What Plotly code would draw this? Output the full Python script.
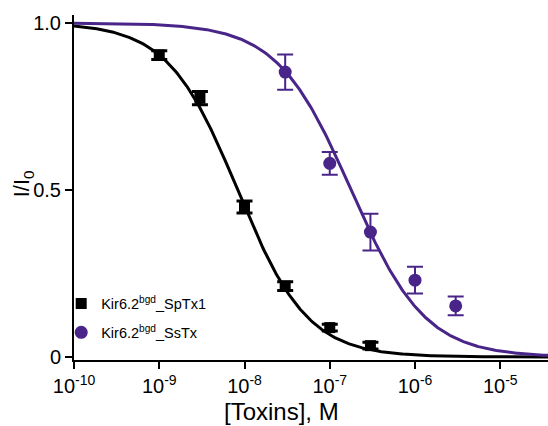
import numpy as np
import plotly.graph_objects as go

# ---- data ----
conc_sptx1 = [1e-9, 3e-9, 1e-8, 3e-8, 1e-7, 3e-7]
resp_sptx1 = [0.904, 0.775, 0.449, 0.212, 0.088, 0.034]
err_sptx1 = [0.013, 0.02, 0.018, 0.013, 0.01, 0.01]

conc_sstx = [3e-8, 1e-7, 3e-7, 1e-6, 3e-6]
resp_sstx = [0.853, 0.58, 0.374, 0.23, 0.153]
err_sstx = [0.053, 0.034, 0.055, 0.04, 0.028]

# Hill fit parameters (IC50, Hill slope)
ic50_sptx1, hill_sptx1 = 8.3e-9, 1.06
ic50_sstx, hill_sstx = 1.78e-7, 1.0

xtick_vals = [1e-10, 1e-9, 1e-8, 1e-7, 1e-6, 1e-5]
xtick_text = ["10<sup>-10</sup>", "10<sup>-9</sup>", "10<sup>-8</sup>",
              "10<sup>-7</sup>", "10<sup>-6</sup>", "10<sup>-5</sup>"]
ytick_vals = [0, 0.5, 1.0]
ytick_text = ["0", "0.5", "1.0"]

BLACK = "#000000"
PURPLE = "#4a2589"
FONT = "Arial, Liberation Sans, sans-serif"

xfit = np.logspace(-10, -4.4, 400)


def hill(x, ic50, n):
    return 1.0 / (1.0 + (x / ic50) ** n)


fig = go.Figure()
fig.add_trace(go.Scatter(x=xfit, y=hill(xfit, ic50_sptx1, hill_sptx1), mode="lines",
                         line=dict(color=BLACK, width=3), showlegend=False, hoverinfo="skip"))
fig.add_trace(go.Scatter(x=xfit, y=hill(xfit, ic50_sstx, hill_sstx), mode="lines",
                         line=dict(color=PURPLE, width=3), showlegend=False, hoverinfo="skip"))
fig.add_trace(go.Scatter(x=conc_sptx1, y=resp_sptx1, mode="markers",
                         name="Kir6.2<sup>bgd</sup>_SpTx1", legendgroup="a",
                         marker=dict(symbol="square", size=11, color=BLACK),
                         error_y=dict(type="data", array=err_sptx1, color=BLACK,
                                      thickness=3, width=8)))
fig.add_trace(go.Scatter(x=conc_sstx, y=resp_sstx, mode="markers",
                         name="Kir6.2<sup>bgd</sup>_SsTx", legendgroup="b",
                         marker=dict(symbol="circle", size=13, color=PURPLE),
                         error_y=dict(type="data", array=err_sstx, color=PURPLE,
                                      thickness=2, width=8)))

fig.update_layout(
    width=548, height=426,
    margin=dict(l=74, r=0, t=15, b=66),
    paper_bgcolor="white", plot_bgcolor="white",
    font=dict(family=FONT, color=BLACK, size=20),
    legend=dict(x=-0.027, y=0.21, xanchor="left", yanchor="top",
                font=dict(size=14.5, color=BLACK, family=FONT),
                bgcolor="rgba(0,0,0,0)", tracegroupgap=7,
                traceorder="grouped"),
    xaxis=dict(type="log", range=[-10, -4.44], showgrid=False, zeroline=False,
               showline=True, linecolor=BLACK, linewidth=2,
               ticks="outside", ticklen=7, tickwidth=2, tickcolor=BLACK,
               tickvals=xtick_vals, ticktext=xtick_text,
               tickfont=dict(size=20, family=FONT, color=BLACK)),
    yaxis=dict(range=[-0.009, 1.024], showgrid=False, zeroline=False,
               showline=True, linecolor=BLACK, linewidth=2,
               ticks="outside", ticklen=7, tickwidth=2, tickcolor=BLACK,
               tickvals=ytick_vals, ticktext=ytick_text,
               tickfont=dict(size=20, family=FONT, color=BLACK)),
    annotations=[
        dict(text="[Toxins], M", x=0.437, y=-0.15, xref="paper", yref="paper",
             xanchor="center", yanchor="middle", showarrow=False,
             font=dict(size=24, family=FONT, color=BLACK)),
        dict(text="I/I<sub>0</sub>", x=-0.107, y=0.51, xref="paper", yref="paper",
             textangle=-90, xanchor="center", yanchor="middle", showarrow=False,
             font=dict(size=22, family=FONT, color=BLACK)),
    ],
)

fig.write_html("out.html")
